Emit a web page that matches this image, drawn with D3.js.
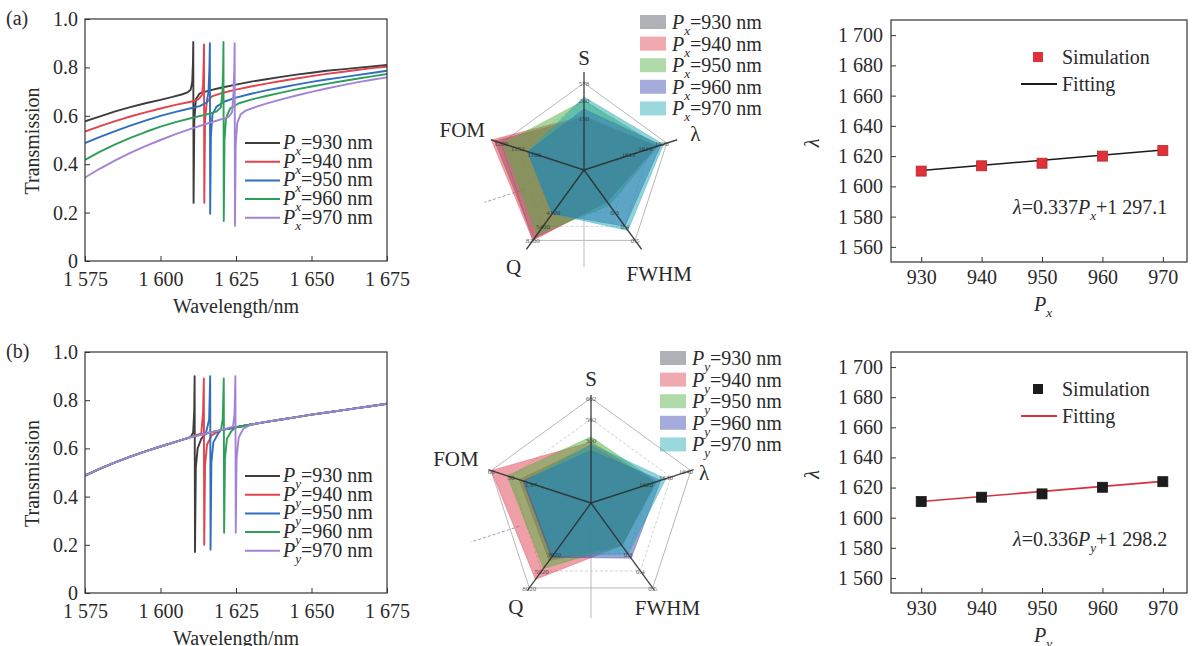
<!DOCTYPE html>
<html><head><meta charset="utf-8">
<script src="https://cdn.jsdelivr.net/npm/d3@7"></script>
<style>
body{margin:0;background:#fff}
svg{display:block}
text{font-family:"Liberation Serif","Times New Roman",serif;fill:#2a2a2a}
</style>
</head><body>
<svg id="c" width="1195" height="646"></svg>
<script>
// ---------------- DATA ----------------
const wavelengthTicks = [1575, 1600, 1625, 1650, 1675];
const wavelengthTickLabels = ["1 575", "1 600", "1 625", "1 650", "1 675"];
const transmissionTicks = [0, 0.2, 0.4, 0.6, 0.8, 1.0];
const transmissionTickLabels = ["0", "0.2", "0.4", "0.6", "0.8", "1.0"];
const periods = [930, 940, 950, 960, 970];
const lineColors = ["#3d3d3d", "#e2434c", "#2f6fc0", "#2e9f58", "#a383d3"];

const specA930 = [[1575,0.577],[1580,0.598],[1585,0.618],[1590,0.636],[1595,0.652],[1600,0.666],[1604,0.678],[1607,0.688],[1609,0.697],[1610,0.708],[1610.5,0.74],[1610.75,0.82],[1610.85,0.905],[1610.95,0.24],[1611.2,0.58],[1611.7,0.668],[1613,0.693],[1616,0.704],[1620,0.716],[1625,0.729],[1630,0.741],[1635,0.751],[1640,0.761],[1645,0.77],[1650,0.778],[1655,0.786],[1660,0.792],[1665,0.798],[1670,0.804],[1675,0.81]];
const specA940 = [[1575,0.535],[1580,0.557],[1585,0.578],[1590,0.597],[1595,0.614],[1600,0.63],[1605,0.645],[1610,0.658],[1612.5,0.668],[1613.7,0.685],[1614.1,0.73],[1614.3,0.82],[1614.4,0.895],[1614.5,0.24],[1614.75,0.58],[1615.3,0.655],[1617,0.68],[1620,0.693],[1625,0.708],[1630,0.721],[1635,0.733],[1640,0.744],[1645,0.754],[1650,0.764],[1655,0.773],[1660,0.781],[1665,0.789],[1670,0.797],[1675,0.803]];
const specA950 = [[1575,0.487],[1580,0.513],[1585,0.537],[1590,0.559],[1595,0.58],[1600,0.6],[1605,0.616],[1610,0.631],[1613,0.64],[1615.3,0.655],[1615.9,0.7],[1616.2,0.8],[1616.35,0.9],[1616.45,0.195],[1616.7,0.52],[1617.2,0.605],[1618.5,0.637],[1621,0.658],[1625,0.675],[1630,0.691],[1635,0.705],[1640,0.717],[1645,0.729],[1650,0.74],[1655,0.75],[1660,0.759],[1665,0.768],[1670,0.777],[1675,0.786]];
const specA960 = [[1575,0.418],[1580,0.452],[1585,0.482],[1590,0.509],[1595,0.533],[1600,0.555],[1605,0.574],[1610,0.59],[1615,0.605],[1618.5,0.617],[1620,0.635],[1620.5,0.7],[1620.75,0.8],[1620.85,0.905],[1620.95,0.165],[1621.2,0.5],[1621.7,0.59],[1623,0.63],[1626,0.652],[1630,0.667],[1635,0.682],[1640,0.696],[1645,0.709],[1650,0.721],[1655,0.732],[1660,0.743],[1665,0.753],[1670,0.763],[1675,0.773]];
const specA970 = [[1575,0.345],[1580,0.382],[1585,0.416],[1590,0.447],[1595,0.475],[1600,0.5],[1605,0.524],[1610,0.546],[1615,0.566],[1620,0.585],[1622.5,0.595],[1623.7,0.615],[1624.2,0.7],[1624.45,0.8],[1624.55,0.9],[1624.65,0.145],[1624.9,0.48],[1625.4,0.57],[1626.5,0.605],[1628,0.62],[1630,0.63],[1635,0.65],[1640,0.668],[1645,0.684],[1650,0.699],[1655,0.713],[1660,0.726],[1665,0.738],[1670,0.749],[1675,0.759]];

const specB930 = [[1575,0.487],[1580,0.516],[1585,0.542],[1590,0.566],[1595,0.588],[1600,0.608],[1605,0.627],[1610,0.647],[1610.8,0.665],[1611.15,0.75],[1611.3,0.9],[1611.42,0.17],[1611.7,0.52],[1612.3,0.6],[1613.5,0.64],[1615,0.662],[1620,0.676],[1625,0.688],[1630,0.699],[1635,0.71],[1640,0.72],[1645,0.73],[1650,0.74],[1655,0.749],[1660,0.758],[1665,0.767],[1670,0.776],[1675,0.785]];
const specB940 = [[1575,0.487],[1580,0.516],[1585,0.542],[1590,0.566],[1595,0.588],[1600,0.608],[1605,0.627],[1610,0.647],[1613.5,0.662],[1614.1,0.75],[1614.35,0.89],[1614.47,0.2],[1614.75,0.53],[1615.4,0.615],[1617,0.655],[1620,0.676],[1625,0.688],[1630,0.699],[1635,0.71],[1640,0.72],[1645,0.73],[1650,0.74],[1655,0.749],[1660,0.758],[1665,0.767],[1670,0.776],[1675,0.785]];
const specB950 = [[1575,0.487],[1580,0.516],[1585,0.542],[1590,0.566],[1595,0.588],[1600,0.608],[1605,0.627],[1610,0.647],[1615,0.662],[1616.1,0.72],[1616.45,0.9],[1616.57,0.18],[1616.85,0.54],[1617.5,0.625],[1619,0.66],[1620,0.676],[1625,0.688],[1630,0.699],[1635,0.71],[1640,0.72],[1645,0.73],[1650,0.74],[1655,0.749],[1660,0.758],[1665,0.767],[1670,0.776],[1675,0.785]];
const specB960 = [[1575,0.487],[1580,0.516],[1585,0.542],[1590,0.566],[1595,0.588],[1600,0.608],[1605,0.627],[1610,0.647],[1615,0.662],[1620,0.676],[1620.6,0.72],[1620.95,0.89],[1621.07,0.25],[1621.35,0.56],[1622,0.64],[1623.5,0.672],[1625,0.688],[1630,0.699],[1635,0.71],[1640,0.72],[1645,0.73],[1650,0.74],[1655,0.749],[1660,0.758],[1665,0.767],[1670,0.776],[1675,0.785]];
const specB970 = [[1575,0.487],[1580,0.516],[1585,0.542],[1590,0.566],[1595,0.588],[1600,0.608],[1605,0.627],[1610,0.647],[1615,0.662],[1620,0.676],[1624,0.69],[1624.5,0.74],[1624.8,0.9],[1624.92,0.25],[1625.2,0.56],[1625.9,0.645],[1627.5,0.683],[1630,0.699],[1635,0.71],[1640,0.72],[1645,0.73],[1650,0.74],[1655,0.749],[1660,0.758],[1665,0.767],[1670,0.776],[1675,0.785]];

const radarAxisNames = ["S", "λ", "FWHM", "Q", "FOM"];
const radarFillColors = ["#505060", "#e04050", "#50b040", "#3848b0", "#20a8b4"];
// normalised radar values [S, λ, FWHM, Q, FOM]
const radarA930 = [0.60, 0.88, 0.45, 0.98, 1.08];
const radarA940 = [0.62, 0.88, 0.45, 1.00, 1.12];
const radarA950 = [0.80, 0.90, 0.50, 0.92, 0.98];
const radarA960 = [0.70, 0.93, 0.80, 0.62, 0.68];
const radarA970 = [0.84, 0.96, 0.86, 0.62, 0.68];
const radarB930 = [0.55, 0.64, 0.50, 0.68, 0.72];
const radarB940 = [0.58, 0.65, 0.50, 0.90, 1.00];
const radarB950 = [0.63, 0.66, 0.50, 0.77, 0.84];
const radarB960 = [0.50, 0.70, 0.65, 0.64, 0.68];
const radarB970 = [0.56, 0.75, 0.60, 0.62, 0.66];
const radarATickLabels = [["150","260","578"],["1612","1616","1620"],["0.3","0.4","0.5"],["4100","5400","8200"],["1100","1152","1200"]];
const radarBTickLabels = [["300","592","602"],["1620","1630","1640"],["0.3","0.4","0.5"],["3020","5020","8020"],["1.97","30","60"]];

const pTicks = [930, 940, 950, 960, 970];
const lambdaTicks = [1560, 1580, 1600, 1620, 1640, 1660, 1680, 1700];
const lambdaTickLabels = ["1 560", "1 580", "1 600", "1 620", "1 640", "1 660", "1 680", "1 700"];
const simLambdaA = [1610.1, 1613.6, 1615.3, 1620.0, 1623.7];
const simLambdaB = [1610.7, 1613.6, 1615.8, 1620.2, 1623.9];
const fitP = [930, 970];
const fitLambdaA = [1610.5, 1624.0];
const fitLambdaB = [1610.7, 1624.1];

// ---------------- DRAWING ----------------
const svg = d3.select("#c");
const FS = 20;

function pText(sel, sub, rest, size) {
  const s = size || FS;
  sel.append("tspan").attr("font-style", "italic").text("P");
  sel.append("tspan").attr("font-style", "italic").attr("font-size", s * 0.66).attr("dy", s * 0.3).text(sub);
  sel.append("tspan").attr("dy", -s * 0.3).text(rest);
}

function styleAxis(g) {
  g.select(".domain").remove();
  g.selectAll(".tick line").attr("stroke", "#333").attr("stroke-width", 1);
  g.selectAll(".tick text").attr("font-size", FS).attr("fill", "#2a2a2a")
    .attr("font-family", '"Liberation Serif","Times New Roman",serif');
}

function spectraPanel(specs, top, bottom, sub, tag) {
  const left = 85, right = 387;
  const x = d3.scaleLinear().domain([1575, 1675]).range([left, right]);
  const y = d3.scaleLinear().domain([0, 1]).range([bottom, top]);
  const clipId = "clip" + sub;
  svg.append("clipPath").attr("id", clipId).append("rect")
    .attr("x", left).attr("y", top - 2).attr("width", right - left).attr("height", bottom - top + 2);
  const line = d3.line().x(d => x(d[0])).y(d => y(d[1]));
  const g = svg.append("g").attr("clip-path", `url(#${clipId})`);
  specs.forEach((s, i) => {
    g.append("path").attr("d", line(s)).attr("fill", "none")
      .attr("stroke", lineColors[i]).attr("stroke-width", 1.9).attr("stroke-linejoin", "round");
  });
  svg.append("rect").attr("x", left).attr("y", top).attr("width", right - left).attr("height", bottom - top)
    .attr("fill", "none").attr("stroke", "#333").attr("stroke-width", 1.2);
  const gx = svg.append("g").attr("transform", `translate(0,${bottom})`)
    .call(d3.axisBottom(x).tickValues(wavelengthTicks).tickFormat((d, i) => wavelengthTickLabels[i]).tickSizeInner(-5).tickSizeOuter(0).tickPadding(11));
  styleAxis(gx);
  const gy = svg.append("g").attr("transform", `translate(${left},0)`)
    .call(d3.axisLeft(y).tickValues(transmissionTicks).tickFormat((d, i) => transmissionTickLabels[i]).tickSizeInner(-5).tickSizeOuter(0).tickPadding(7));
  styleAxis(gy);
  svg.append("text").attr("transform", `translate(39,${(top + bottom) / 2 + 1}) rotate(-90)`)
    .attr("text-anchor", "middle").attr("font-size", FS).text("Transmission");
  svg.append("text").attr("x", (left + right) / 2).attr("y", bottom + 52)
    .attr("text-anchor", "middle").attr("font-size", FS).text("Wavelength/nm");
  svg.append("text").attr("x", 6).attr("y", top + 6).attr("font-size", FS).text(tag);
  const ly0 = top + 124, ldy = 18.7;
  periods.forEach((p, i) => {
    const yy = ly0 + i * ldy;
    svg.append("line").attr("x1", 245).attr("x2", 280).attr("y1", yy).attr("y2", yy)
      .attr("stroke", lineColors[i]).attr("stroke-width", 2);
    const t = svg.append("text").attr("x", 283).attr("y", yy + 6).attr("font-size", FS);
    pText(t, sub, "=" + p + " nm");
  });
}

function radarPanel(vals, cx, cy, R, axisR, labelR, labelDy, tickLabels, sub, legX, legY, legDy, extraDown) {
  const angles = [-90, -18, 54, 126, 198].map(a => a * Math.PI / 180);
  const r = d3.scaleLinear().domain([0, 1]).range([0, R]);
  const pt = (k, v) => [cx + r(v) * Math.cos(angles[k]), cy + r(v) * Math.sin(angles[k])];
  const g = svg.append("g");
  g.append("line").attr("x1", cx).attr("y1", cy).attr("x2", cx).attr("y2", cy + extraDown)
    .attr("stroke", "#bbb").attr("stroke-width", 1);
  const a162 = 162 * Math.PI / 180;
  g.append("line").attr("x1", cx + 0.72 * R * Math.cos(a162)).attr("y1", cy + 0.72 * R * Math.sin(a162))
    .attr("x2", cx + 1.2 * R * Math.cos(a162)).attr("y2", cy + 1.2 * R * Math.sin(a162))
    .attr("stroke", "#9aa0b8").attr("stroke-width", 1).attr("stroke-dasharray", "3,2");
  [0.2, 0.4, 0.6, 0.8, 1.0].forEach(lv => {
    const pts = [0, 1, 2, 3, 4].map(k => pt(k, lv));
    g.append("path").attr("d", d3.line()(pts) + "Z").attr("fill", "none")
      .attr("stroke", lv === 1 ? "#b8b8b8" : "#d0d0d0").attr("stroke-width", 1)
      .attr("stroke-dasharray", lv === 1 ? null : "3,2");
  });
  vals.forEach((v, i) => {
    const pts = v.map((val, k) => pt(k, val));
    g.append("path").attr("d", d3.line()(pts) + "Z").attr("fill", radarFillColors[i])
      .attr("fill-opacity", 0.5).attr("stroke", radarFillColors[i]).attr("stroke-opacity", 0.35).attr("stroke-width", 1);
  });
  angles.forEach((a, k) => {
    g.append("line").attr("x1", cx).attr("y1", cy)
      .attr("x2", cx + axisR * Math.cos(a)).attr("y2", cy + axisR * Math.sin(a))
      .attr("stroke", "#2a2a2a").attr("stroke-width", 1.4).attr("stroke-opacity", 0.85);
  });
  tickLabels.forEach((labs, k) => {
    [0.6, 0.8, 1.0].forEach((lv, j) => {
      const [px, py] = pt(k, lv);
      g.append("text").attr("x", k === 1 ? px - 5 : px).attr("y", py + 3).attr("text-anchor", "middle").attr("font-size", 7)
        .attr("fill", "#666").attr("opacity", 0.75).text(labs[j]);
    });
  });
  radarAxisNames.forEach((nm, k) => {
    const a = angles[k];
    g.append("text").attr("x", cx + labelR[k] * Math.cos(a)).attr("y", cy + labelR[k] * Math.sin(a) + 7 + labelDy[k])
      .attr("text-anchor", "middle").attr("font-size", 21).text(nm);
  });
  periods.forEach((p, i) => {
    const yy = legY + i * legDy;
    svg.append("rect").attr("x", legX).attr("y", yy - 7).attr("width", 26).attr("height", 14)
      .attr("fill", radarFillColors[i]).attr("fill-opacity", 0.45);
    const t = svg.append("text").attr("x", legX + 32).attr("y", yy + 7).attr("font-size", FS);
    pText(t, sub, "=" + p + " nm");
  });
}

function linearPanel(simL, fitL, top, bottom, sub, markColor, fitColor, eqSlope, eqIntercept) {
  const left = 891, right = 1187;
  const x = d3.scaleLinear().domain([925, 974]).range([left, right]);
  const y = d3.scaleLinear().domain([1550, 1710]).range([bottom, top]);
  svg.append("rect").attr("x", left).attr("y", top).attr("width", right - left).attr("height", bottom - top)
    .attr("fill", "none").attr("stroke", "#333").attr("stroke-width", 1.2);
  const gx = svg.append("g").attr("transform", `translate(0,${bottom})`)
    .call(d3.axisBottom(x).tickValues(pTicks).tickSizeInner(-5).tickSizeOuter(0).tickPadding(8));
  styleAxis(gx);
  const gy = svg.append("g").attr("transform", `translate(${left},0)`)
    .call(d3.axisLeft(y).tickValues(lambdaTicks).tickFormat((d, i) => lambdaTickLabels[i]).tickSizeInner(-5).tickSizeOuter(0).tickPadding(8));
  styleAxis(gy);
  svg.append("path").attr("d", d3.line().x((d, i) => x(fitP[i])).y(d => y(d))(fitL))
    .attr("stroke", fitColor).attr("stroke-width", 1.6).attr("fill", "none");
  pTicks.forEach((p, i) => {
    svg.append("rect").attr("x", x(p) - 5).attr("y", y(simL[i]) - 5).attr("width", 10).attr("height", 10)
      .attr("fill", markColor).attr("stroke", d3.color(markColor).darker(0.6)).attr("stroke-width", 0.8);
  });
  svg.append("rect").attr("x", 1033).attr("y", top + 32).attr("width", 10).attr("height", 10)
    .attr("fill", markColor);
  svg.append("text").attr("x", 1062).attr("y", top + 44).attr("font-size", FS).text("Simulation");
  svg.append("line").attr("x1", 1021).attr("x2", 1057).attr("y1", top + 64).attr("y2", top + 64)
    .attr("stroke", fitColor).attr("stroke-width", 1.8);
  svg.append("text").attr("x", 1062).attr("y", top + 71).attr("font-size", FS).text("Fitting");
  const eq = svg.append("text").attr("x", 1013).attr("y", top + 194).attr("font-size", FS);
  eq.append("tspan").attr("font-style", "italic").text("λ");
  eq.append("tspan").text("=" + eqSlope);
  pText(eq, sub, "+" + eqIntercept);
  svg.append("text").attr("transform", `translate(819,${(top + bottom) / 2 + 2}) rotate(-90)`)
    .attr("text-anchor", "middle").attr("font-size", FS).attr("font-style", "italic").text("λ");
  const xt = svg.append("text").attr("x", 1034).attr("y", bottom + 49).attr("font-size", FS);
  pText(xt, sub, "");
}

spectraPanel([specA930, specA940, specA950, specA960, specA970], 19, 261, "x", "(a)");
spectraPanel([specB930, specB940, specB950, specB960, specB970], 352, 593, "y", "(b)");

radarPanel([radarA930, radarA940, radarA950, radarA960, radarA970], 584, 170, 87, 98,
  [112, 117, 128, 120, 128], [0, 0, 0, 0, 0], radarATickLabels, "x", 640, 22, 21.6, 97);
radarPanel([radarB930, radarB940, radarB950, radarB960, radarB970], 591, 503, 105, 108,
  [124, 119, 130, 128, 142], [0, 7, 0, 0, 0], radarBTickLabels, "y", 660, 358, 21.6, 115);

linearPanel(simLambdaA, fitLambdaA, 20, 262, "x", "#e03038", "#1a1a1a", "0.337", "1 297.1");
linearPanel(simLambdaB, fitLambdaB, 352, 593, "y", "#1c1c1c", "#d83040", "0.336", "1 298.2");
</script>
</body></html>
